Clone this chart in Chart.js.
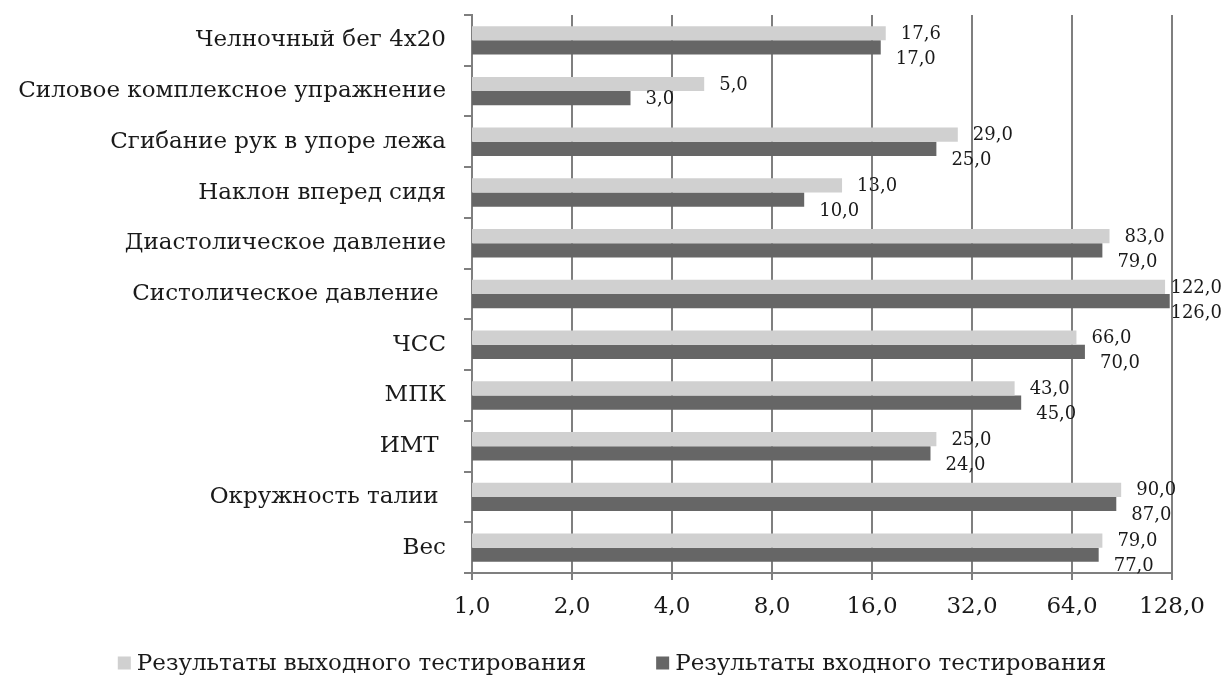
<!DOCTYPE html>
<html>
<head>
<meta charset="utf-8">
<script src="https://cdn.jsdelivr.net/npm/chart.js@4.4.1/dist/chart.umd.min.js"></script>
<style>
  html, body { margin: 0; padding: 0; background: #fff; }
  #wrap { width: 1224px; height: 677px; }
</style>
</head>
<body>
<div id="wrap"><canvas id="chart" width="1224" height="677"></canvas></div>
<script>
// categories, top to bottom
const categories = [
  'Челночный бег 4х20',
  'Силовое комплексное упражнение',
  'Сгибание рук в упоре лежа',
  'Наклон вперед сидя',
  'Диастолическое давление',
  'Систолическое давление ',
  'ЧСС',
  'МПК',
  'ИМТ ',
  'Окружность талии ',
  'Вес'
];
const exitResults  = [17.6, 5.0, 29.0, 13.0, 83.0, 122.0, 66.0, 43.0, 25.0, 90.0, 79.0];
const entryResults = [17.0, 3.0, 25.0, 10.0, 79.0, 126.0, 70.0, 45.0, 24.0, 87.0, 77.0];
const xTicks = [1, 2, 4, 8, 16, 32, 64, 128];

const FONT = '"DejaVu Serif", "Liberation Serif", serif';
const fmt = v => Number(v).toFixed(1).replace('.', ',');

// value labels beside bar ends (second label pushed down when it would collide)
const barLabels = {
  id: 'barLabels',
  afterDatasetsDraw(chart) {
    const ctx = chart.ctx;
    ctx.save();
    ctx.font = '18px ' + FONT;
    ctx.fillStyle = '#1a1a1a';
    ctx.textAlign = 'left';
    ctx.textBaseline = 'middle';
    const top = chart.getDatasetMeta(0).data;
    const bot = chart.getDatasetMeta(1).data;
    const d0 = chart.data.datasets[0].data, d1 = chart.data.datasets[1].data;
    top.forEach((bar, i) => {
      const t0 = fmt(d0[i]), t1 = fmt(d1[i]);
      const w0 = ctx.measureText(t0).width, w1 = ctx.measureText(t1).width;
      const x0 = Math.min(bar.x + 15, chart.width - 2 - w0);
      const x1 = Math.min(bot[i].x + 15, chart.width - 2 - w1);
      const y0 = bar.y + 1;
      let y1 = bot[i].y + 1;
      if (x1 < x0 + w0 && x0 < x1 + w1) y1 = y0 + 25;
      ctx.fillText(t0, x0, y0);
      ctx.fillText(t1, x1, y1);
    });
    ctx.restore();
  }
};

// legend at the bottom
const bottomLegend = {
  id: 'bottomLegend',
  afterDraw(chart) {
    const ctx = chart.ctx;
    ctx.save();
    ctx.font = '23px ' + FONT;
    ctx.textBaseline = 'middle';
    const box = 13, gapBox = 6, gapItem = 70, y = 663;
    const items = chart.data.datasets.map(ds => ({
      text: ds.label, color: ds.backgroundColor,
      w: box + gapBox + ctx.measureText(ds.label).width
    }));
    const total = items.reduce((s, it) => s + it.w, 0) + gapItem * (items.length - 1);
    let x = (chart.width - total) / 2;
    items.forEach(it => {
      ctx.fillStyle = it.color;
      ctx.fillRect(x, y - box / 2, box, box);
      ctx.fillStyle = '#1a1a1a';
      ctx.fillText(it.text, x + box + gapBox, y + 1);
      x += it.w + gapItem;
    });
    ctx.restore();
  }
};

new Chart(document.getElementById('chart'), {
  type: 'bar',
  data: {
    labels: categories,
    datasets: [
      {
        label: 'Результаты выходного тестирования',
        data: exitResults,
        backgroundColor: '#d0d0d0'
      },
      {
        label: 'Результаты входного тестирования',
        data: entryResults,
        backgroundColor: '#666666'
      }
    ]
  },
  options: {
    indexAxis: 'y',
    responsive: false,
    animation: false,
    events: [],
    layout: { padding: { top: 15, right: 52, left: 0, bottom: 0 } },
    datasets: { bar: { categoryPercentage: 0.56, barPercentage: 1.0 } },
    plugins: { legend: { display: false }, tooltip: { enabled: false } },
    scales: {
      x: {
        type: 'logarithmic',
        min: 1,
        max: 128,
        afterBuildTicks: s => { s.ticks = xTicks.map(v => ({ value: v })); },
        afterFit: s => { s.height = 104; s.paddingLeft = 0; s.paddingRight = 0; },
        ticks: {
          callback: v => fmt(v),
          font: { family: FONT, size: 23 },
          color: '#1a1a1a',
          padding: 13,
          maxRotation: 0,
          autoSkip: false
        },
        grid: { color: '#7f7f7f', lineWidth: 2, tickLength: 7 },
        border: { color: '#7f7f7f', width: 2 }
      },
      y: {
        afterFit: s => { s.width = 472; s.paddingTop = 0; s.paddingBottom = 0; },
        ticks: {
          font: { family: FONT, size: 23 },
          color: '#1a1a1a',
          padding: 18,
          autoSkip: false
        },
        grid: { drawOnChartArea: false, color: '#7f7f7f', lineWidth: 2, tickLength: 8 },
        border: { color: '#7f7f7f', width: 2 }
      }
    }
  },
  plugins: [barLabels, bottomLegend]
});
</script>
</body>
</html>
